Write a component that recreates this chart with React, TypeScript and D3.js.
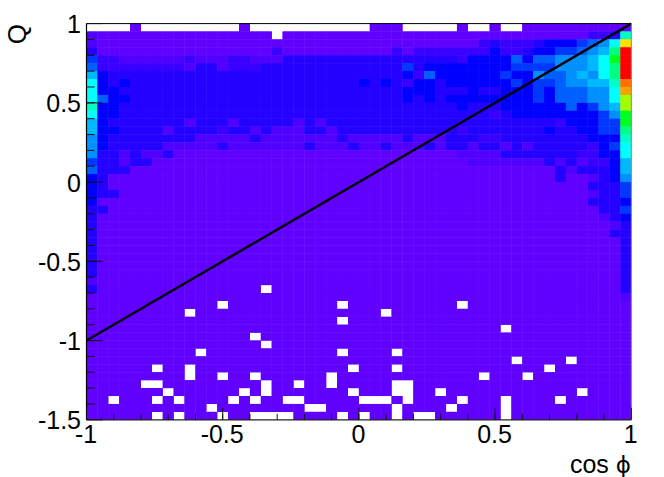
import React from "react";
import * as d3 from "d3";

const gridRows: string[] = [
  "....0..... ....0..... ......000. ....0..0.. 0000000000",
  "1000000000 0000000.00 0000000000 0000000000 000000223a",
  "1000000000 0000000000 0000000000 0000002322 234445679e",
  "3000000000 0000000200 0000000020 2222222422 34455678bh",
  "5221111112 1112211133 3333333333 3333244446 46677789ch",
  "6222222221 3312223333 3333333335 3444444445 55577789bh",
  "8433333333 3333333333 3333333334 2644444454 47667879bh",
  "9434333333 3333333333 3333343432 4434444445 45567788ag",
  "9443333333 3333333333 3333333334 4433343344 454666779f",
  "9644333333 3333333333 3333333334 3434444444 454666779d",
  "a443333333 3333333333 3333333333 3333433344 444464578d",
  "9443333333 3333333333 3333333333 3333333234 444444457c",
  "8433333331 3331333331 3133333333 3333333333 333244455c",
  "8443333133 3323313111 3313333333 3333233333 334334455b",
  "7433333333 1111131111 1113111113 1113332233 333333444a",
  "7433333111 1131111111 3111311311 1313313313 1333332459",
  "7331311300 0000000000 0000000000 0000111133 3333322449",
  "5331330000 0000000000 0000000000 0000011111 1131312248",
  "6333000000 0000000000 0000000000 0000000000 0003133348",
  "4300000000 0000000000 0000000000 0000000000 0003001347",
  "4300000000 0000000000 0000000000 0000000000 0000003335",
  "4330000000 0000000000 0000000000 0000000000 0000001335",
  "4000000000 0000000000 0000000000 0000000000 0000003334",
  "3300000000 0000000000 0000000000 0000000000 0000000335",
  "3000000000 0000000000 0000000000 0000000000 0000000134",
  "3000000000 0000000000 0000000000 0000000000 0000000013",
  "3000000000 0000000000 0000000000 0000000000 0000000033",
  "3000000000 0000000000 0000000000 0000000000 0000000003",
  "3000000000 0000000000 0000000000 0000000000 0000000003",
  "3000000000 0000000000 0000000000 0000000000 0000000003",
  "3000000000 0000000000 0000000000 0000000000 0000000003",
  "3000000000 0000000000 0000000000 0000000000 0000000003",
  "1000000000 0000000000 0000000000 0000000000 0000000003",
  "3000000000 000000.000 0000000000 0000000000 0000000003",
  "0000000000 0000000000 0000000000 0000000000 0000000001",
  "0000000000 00.0000000 000.000000 0000.00000 0000000000",
  "000000000. 0000000000 0000000.00 0000000000 0000000000",
  "0000000000 0000000000 000.000000 0000000000 0000000000",
  "0000000000 0000000000 0000000000 00000000.0 0000000000",
  "0000000000 00000.0000 0000000000 0000000000 0000000000",
  "0000000000 000000.000 0000000000 0000000000 0000000000",
  "0000000000 .000000000 000.0000.0 0000000000 0000000000",
  "0000000000 0000000000 0000000000 000000000. 0000.00000",
  "000000.00. 0000000000 0000.000.0 0000000000 00.0000000",
  "000000000. 00.00.0000 00.0000000 000000.000 .000000000",
  "00000..000 000000.00. 00.00000.. 0000000000 0000000000",
  "0000000.00 0000.0.000 0000.000.. 00.0000000 00000.0000",
  "00.000.0.0 000.0.00.. 00000...0. 0000.000.0 000.000000",
  "0000000000 0.00000000 ..000000.0 000.0000.0 0000000000",
  "000000.0.0 00.00....0 000.0.00.0 ..000000.0 0000000000",
];

const paletteStops = [
  "#6000ff", "#5000ff", "#3a00ff", "#2400ff", "#0000ff", "#0038ff",
  "#0060ff", "#0090ff", "#00b8ff", "#00ffff", "#00ffc0", "#00ff80",
  "#00ff20", "#a0ff00", "#ffe000", "#ffa000", "#ff7000", "#ff0000",
];

const cosPhiTicks = [-1, -0.5, 0, 0.5, 1];
const qTicks = [-1.5, -1, -0.5, 0, 0.5, 1];
const cosPhiMinorTicks = d3.range(-9, 10).map((d) => d / 10);
const qMinorTicks = d3.range(-14, 10).map((d) => d / 10);
const diagonalLine: [number, number][] = [[-1, -1], [1, 1]];

const xBinCount = 50;
const yBinCount = 50;

const x = d3.scaleLinear().domain([-1, 1]).range([86.5, 631.3]);
const y = d3.scaleLinear().domain([-1.5, 1]).range([419.8, 23.6]);
const color = d3
  .scaleLinear<string>()
  .domain(paletteStops.map((_, i) => i))
  .range(paletteStops);

const xStep = 2 / xBinCount;
const yStep = 2.5 / yBinCount;

const FONT = "'Liberation Sans', Arial, sans-serif";
const TICK_SIZE = 25;

export default function App() {
  const line = d3.line<[number, number]>().x((d) => x(d[0])).y((d) => y(d[1]));
  const cells: React.ReactNode[] = [];
  gridRows.forEach((row, j) => {
    const chars = row.replace(/ /g, "");
    for (let i = 0; i < chars.length; i++) {
      const c = chars[i];
      if (c === ".") continue;
      const v = parseInt(c, 36);
      const x0 = x(-1 + i * xStep);
      const x1 = x(-1 + (i + 1) * xStep);
      const y0 = y(1 - j * yStep);
      const y1 = y(1 - (j + 1) * yStep);
      cells.push(
        <rect key={`${j}-${i}`} x={x0} y={y0} width={x1 - x0} height={y1 - y0} fill={color(v)} />
      );
    }
  });

  return (
    <svg
      width={664}
      height={477}
      viewBox="0 0 664 477"
      style={{ position: "absolute", left: 0, top: 0, background: "#fff" }}
      fontFamily={FONT}
    >
      {/* painted twice so seams between cells stay only faintly visible */}
      <g>{cells}</g>
      <g>{cells}</g>
      <path d={line(diagonalLine) ?? ""} fill="none" stroke="#000" strokeWidth={2.4} />

      {/* frame */}
      <line x1={x(-1)} x2={x(1)} y1={y(1)} y2={y(1)} stroke="#000" strokeWidth={1} />
      <line x1={x(-1)} x2={x(-1)} y1={y(1)} y2={y(-1.5)} stroke="#000" strokeWidth={1.2} />
      <line x1={x(-1)} x2={x(1)} y1={y(-1.5)} y2={y(-1.5)} stroke="#222" strokeWidth={1.2} />
      <line x1={x(1)} x2={x(1)} y1={y(1)} y2={y(-1.5)} stroke="#888" strokeWidth={1} />

      {/* x axis ticks */}
      {cosPhiMinorTicks.map((t) => (
        <line key={t} x1={x(t)} x2={x(t)} y1={y(-1.5)} y2={y(-1.5) - 6} stroke="#111" strokeWidth={1} />
      ))}
      {cosPhiTicks.map((t) => (
        <line key={t} x1={x(t)} x2={x(t)} y1={y(-1.5)} y2={y(-1.5) - 12} stroke="#111" strokeWidth={1} />
      ))}
      {/* y axis ticks */}
      {qMinorTicks.map((t) => (
        <line key={t} x1={x(-1)} x2={x(-1) + 8} y1={y(t)} y2={y(t)} stroke="#111" strokeWidth={1} />
      ))}
      {qTicks.map((t) => (
        <line key={t} x1={x(-1)} x2={x(-1) + 16} y1={y(t)} y2={y(t)} stroke="#111" strokeWidth={1} />
      ))}

      {/* tick labels */}
      {cosPhiTicks.map((t) => (
        <text key={t} x={x(t) - 0.5} y={443} textAnchor="middle" fontSize={TICK_SIZE} fill="#000">
          {String(t)}
        </text>
      ))}
      {qTicks.map((t) => (
        <text key={t} x={81} y={y(t) + 9.5} textAnchor="end" fontSize={TICK_SIZE} fill="#000">
          {String(t)}
        </text>
      ))}

      {/* axis titles */}
      <text x={631} y={473} textAnchor="end" fontSize={25} fill="#000">
        cos <tspan fontFamily="'DejaVu Sans'" fontSize={23}>ϕ</tspan>
      </text>
      <text
        transform="translate(26,24) rotate(-90)"
        textAnchor="end"
        fontSize={26}
        fill="#000"
      >
        Q
      </text>
    </svg>
  );
}
